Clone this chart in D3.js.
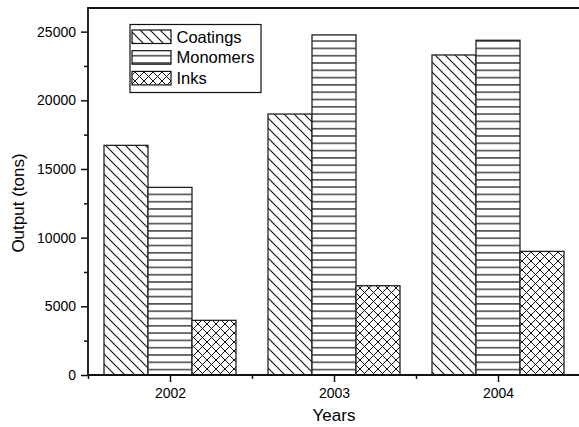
<!DOCTYPE html>
<html lang="en">
<head>
<meta charset="utf-8">
<script src="https://d3js.org/d3.v7.min.js"></script>
<style>
    body { margin: 0; background: #fff; }
    text { font-family: Arial, "Liberation Sans", sans-serif; fill: #000; }
</style>
</head>
<body>
<div id="chart"></div>
<script>
// data
var years = [2002, 2003, 2004];
var series = ["Coatings", "Monomers", "Inks"];
var coatings = [16720, 19000, 23300];
var monomers = [13660, 24760, 24370];
var inks = [3980, 6500, 9000];
var majorTicks = [0, 5000, 10000, 15000, 20000, 25000];

var width = 579;
var height = 427;
var padLeft = 88, padTop = 8, padBottom = 375;

var svg = d3.select("#chart")
    .append("svg")
    .attr("width", width)
    .attr("height", height);

// scales
var xScale = d3.scaleLinear().domain([2001.5, 2004.5]).range([padLeft, padLeft + 492]);
var yScale = d3.scaleLinear().domain([0, 26720]).range([padBottom, padTop]);
var groupScale = d3.scaleBand().domain(series).range([-66, 66]);

// hatch patterns
var defs = svg.append("defs");

var p1 = defs.append("pattern").attr("id", "hatch-Coatings")
    .attr("patternUnits", "userSpaceOnUse").attr("width", 10).attr("height", 10);
p1.append("rect").attr("width", 10).attr("height", 10).attr("fill", "#fff");
p1.append("path").attr("d", "M-1,-1 L11,11 M-2,8 L2,12 M8,-2 L12,2")
    .attr("stroke", "#111").attr("stroke-width", 1.1);

var p2 = defs.append("pattern").attr("id", "hatch-Monomers")
    .attr("patternUnits", "userSpaceOnUse").attr("width", 10).attr("height", 7.3)
    .attr("y", 1);
p2.append("rect").attr("width", 10).attr("height", 7.3).attr("fill", "#fff");
p2.append("line").attr("x1", 0).attr("x2", 10).attr("y1", 3.6).attr("y2", 3.6)
    .attr("stroke", "#111").attr("stroke-width", 1.2);

var p3 = defs.append("pattern").attr("id", "hatch-Inks")
    .attr("patternUnits", "userSpaceOnUse").attr("width", 9).attr("height", 9);
p3.append("rect").attr("width", 9).attr("height", 9).attr("fill", "#fff");
p3.append("path").attr("d", "M-1,-1 L10,10 M-1,10 L10,-1")
    .attr("stroke", "#111").attr("stroke-width", 1);

// build rows for bars
var rows = [];
years.forEach(function(yr, i) {
    rows.push({ year: yr, key: "Coatings", value: coatings[i] });
    rows.push({ year: yr, key: "Monomers", value: monomers[i] });
    rows.push({ year: yr, key: "Inks", value: inks[i] });
});

// bars
svg.append("g")
    .selectAll("rect")
    .data(rows)
    .enter()
    .append("rect")
    .attr("x", function(d) { return xScale(d.year) + groupScale(d.key); })
    .attr("y", function(d) { return yScale(d.value); })
    .attr("width", groupScale.bandwidth())
    .attr("height", function(d) { return yScale(0) - yScale(d.value); })
    .attr("fill", function(d) { return "url(#hatch-" + d.key + ")"; })
    .attr("stroke", "#222")
    .attr("stroke-width", 1.3);

// y axis (major + minor ticks)
var yAxis = d3.axisLeft(yScale).tickValues(majorTicks).tickSize(7).tickPadding(5)
    .tickFormat(d3.format("d"));
var yMinor = d3.axisLeft(yScale).tickValues(majorTicks.map(function(v) { return v + 2500; }))
    .tickSize(4).tickFormat("");

svg.append("g")
    .attr("transform", "translate(" + padLeft + ",0)")
    .call(yMinor)
    .call(function(g) { g.select(".domain").remove(); });

svg.append("g")
    .attr("class", "y axis")
    .attr("transform", "translate(" + padLeft + ",0)")
    .call(yAxis)
    .call(function(g) {
        g.select(".domain").remove();
        g.selectAll("text").style("font-size", "14px");
    });

// x axis
var xAxis = d3.axisBottom(xScale).tickValues(years).tickSize(7).tickPadding(6)
    .tickFormat(d3.format("d"));
var xMinor = d3.axisBottom(xScale).tickValues([2001.5, 2002.5, 2003.5])
    .tickSize(4).tickFormat("");

svg.append("g")
    .attr("transform", "translate(0," + padBottom + ")")
    .call(xMinor)
    .call(function(g) { g.select(".domain").remove(); });

svg.append("g")
    .attr("class", "x axis")
    .attr("transform", "translate(0," + padBottom + ")")
    .call(xAxis)
    .call(function(g) {
        g.select(".domain").remove();
        g.selectAll("text").style("font-size", "14px");
    });

svg.selectAll(".tick line").attr("stroke", "#111").attr("stroke-width", 1.5);

// frame lines (left, top, bottom)
svg.append("path")
    .attr("d", "M" + (padLeft + 500) + "," + padTop + " L" + padLeft + "," + padTop +
        " L" + padLeft + "," + padBottom + " L" + (padLeft + 500) + "," + padBottom)
    .attr("fill", "none")
    .attr("stroke", "#111")
    .attr("stroke-width", 1.8);

// axis titles
svg.append("text")
    .attr("x", xScale(2003))
    .attr("y", 421)
    .attr("text-anchor", "middle")
    .style("font-size", "17px")
    .text("Years");

svg.append("text")
    .attr("transform", "translate(24,203) rotate(-90)")
    .attr("text-anchor", "middle")
    .style("font-size", "17px")
    .text("Output (tons)");

// legend
var legend = svg.append("g");
legend.append("rect")
    .attr("x", 130).attr("y", 24.5)
    .attr("width", 131).attr("height", 68)
    .attr("fill", "#fff")
    .attr("stroke", "#111")
    .attr("stroke-width", 1.2);

series.forEach(function(s, i) {
    var yy = 30 + i * 20.7;
    legend.append("rect")
        .attr("x", 132).attr("y", yy)
        .attr("width", 39).attr("height", 13.5)
        .attr("fill", "url(#hatch-" + s + ")")
        .attr("stroke", "#111")
        .attr("stroke-width", 1.2);
    legend.append("text")
        .attr("x", 176.5)
        .attr("y", yy + 12.5)
        .style("font-size", "16.5px")
        .text(s);
});
</script>
</body>
</html>
